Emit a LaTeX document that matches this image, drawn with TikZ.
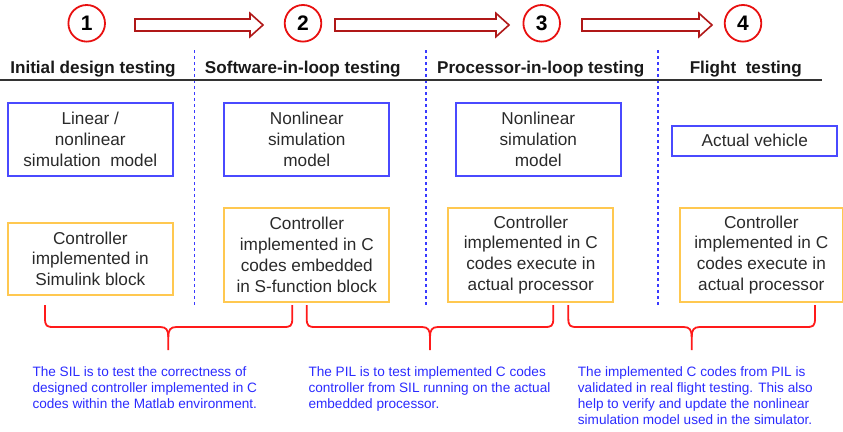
\documentclass[tikz,border=0pt]{standalone}
\usepackage{fontspec}
\setmainfont{Liberation Sans}
\usetikzlibrary{calc}
\definecolor{boxblue}{HTML}{4A4AFF}
\definecolor{boxyel}{HTML}{FFC850}
\definecolor{txtgray}{HTML}{2A2A2A}
\definecolor{partxt}{HTML}{2B2BFF}
\definecolor{circred}{HTML}{E81010}
\definecolor{arrred}{HTML}{B01818}
\definecolor{bracered}{HTML}{FF1A1A}
\definecolor{sepblue}{HTML}{3A3AFF}
\tikzset{
  numcirc/.style={circle, draw=circred, line width=1.8pt, fill=white, minimum size=36.6pt, inner sep=0pt, font=\bfseries\fontsize{21}{24}\selectfont, text=black},
  head/.style={font=\bfseries\fontsize{17.1}{20}\selectfont, text=black!90, anchor=base, inner sep=0pt},
  modelbox/.style={draw=boxblue, line width=1.8pt, inner sep=0pt, align=center, font=\fontsize{17.2}{20.8}\selectfont, text=txtgray},
  ctrlbox/.style={draw=boxyel, line width=1.8pt, inner sep=0pt, align=center, font=\fontsize{17.2}{20.8}\selectfont, text=txtgray},
  fatarr/.style={draw=arrred, line width=1.6pt, fill=white, line join=miter},
  sepline/.style={draw=sepblue, line width=1.6pt, dash pattern=on 3pt off 3pt},
  bracepath/.style={draw=bracered, line width=1.8pt, line join=round},
  note/.style={anchor=north west, inner sep=0pt, align=left, text=partxt, font=\fontsize{13.6}{16.3}\selectfont},
}
\newcommand{\fatarrow}[2]{\draw[fatarr] (#1,19) -- (#2-13,19) -- (#2-13,13.3) -- (#2,25) -- (#2-13,36.7) -- (#2-13,31) -- (#1,31) -- cycle;}
\newcommand{\bracedraw}[3]{%
  \draw[bracepath] (#1,305) -- (#1,318) .. controls (#1,326.5) and (#1+2,327) .. (#1+9,327) -- (#3-8,327) .. controls (#3-2,327) and (#3,330) .. (#3,337) -- (#3,350);
  \draw[bracepath] (#2,305) -- (#2,318) .. controls (#2,326.5) and (#2-2,327) .. (#2-9,327) -- (#3+8,327) .. controls (#3+2,327) and (#3,330) .. (#3,337);
}
\begin{document}
\begin{tikzpicture}[x=1pt,y=-1pt]
\path[use as bounding box] (0,0) rectangle (843,431);
% separators
\foreach \xx/\nm in {194.3/s1,425.7/s2,657.7/s3} {
  \coordinate (\nm top) at (\xx,50);
  \coordinate (\nm bot) at (\xx,307);
  \draw[sepline] (\nm top) -- (\nm bot);
}
% header rule
\coordinate (ruleL) at (0,80);
\coordinate (ruleR) at (822,80);
\draw[line width=1.5pt, black!80] (ruleL) -- (ruleR);
% arrows
\fatarrow{135}{263}
\fatarrow{335}{509}
\fatarrow{582}{712}
% circles
\node[numcirc] (c1) at (86.7,23.3) {1};
\node[numcirc] (c2) at (303,23.3) {2};
\node[numcirc] (c3) at (541.7,23.3) {3};
\node[numcirc] (c4) at (743,23.3) {4};
% headers
\node[head] (h1) at (93,73.3) {Initial design testing};
\node[head] (h2) at (302.8,73.3) {Software-in-loop testing};
\node[head] (h3) at (540.7,73.3) {Processor-in-loop testing};
\node[head] (h4) at (745.8,73.3) {Flight\ \ testing};
% model boxes
\node[modelbox, minimum width=164.7pt, minimum height=72.4pt] (m1) at (90.3,139.5) {Linear /\\nonlinear\\simulation\ \ model};
\node[modelbox, minimum width=165pt, minimum height=72.4pt] (m2) at (306.8,139.5) {Nonlinear\\simulation\\model};
\node[modelbox, minimum width=164.7pt, minimum height=72.4pt] (m3) at (538.3,139.5) {Nonlinear\\simulation\\model};
\node[modelbox, minimum width=165pt, minimum height=30pt] (m4) at (754.8,140.7) {Actual vehicle};
% controller boxes
\node[ctrlbox, minimum width=164.7pt, minimum height=72.3pt] (k1) at (90.3,258.8) {Controller\\implemented in\\Simulink block};
\node[ctrlbox, minimum width=165pt, minimum height=93.7pt] (k2) at (306.8,254.8) {Controller\\implemented in C\\codes embedded\\in S-function block};
\node[ctrlbox, minimum width=165pt, minimum height=93.7pt] (k3) at (530.8,254.8) {Controller\\implemented in C\\codes execute in\\actual processor};
\node[ctrlbox, minimum width=162.7pt, minimum height=93.7pt] (k4) at (761.3,254.8) {Controller\\implemented in C\\codes execute in\\actual processor};
% braces
\bracedraw{45}{292.3}{168.3}
\bracedraw{306.7}{553.3}{430}
\bracedraw{568.3}{815}{691.7}
% notes
\node[note] (n1) at (32.3,366) {The SIL is to test the correctness of\\designed controller implemented in C\\codes within the Matlab environment.};
\node[note] (n2) at (308.3,366) {The PIL is to test implemented C codes\\controller from SIL running on the actual\\embedded processor.};
\node[note] (n3) at (577.7,366) {The implemented C codes from PIL is\\validated in real flight testing. This also\\help to verify and update the nonlinear\\simulation model used in the simulator.};
\end{tikzpicture}
\end{document}
